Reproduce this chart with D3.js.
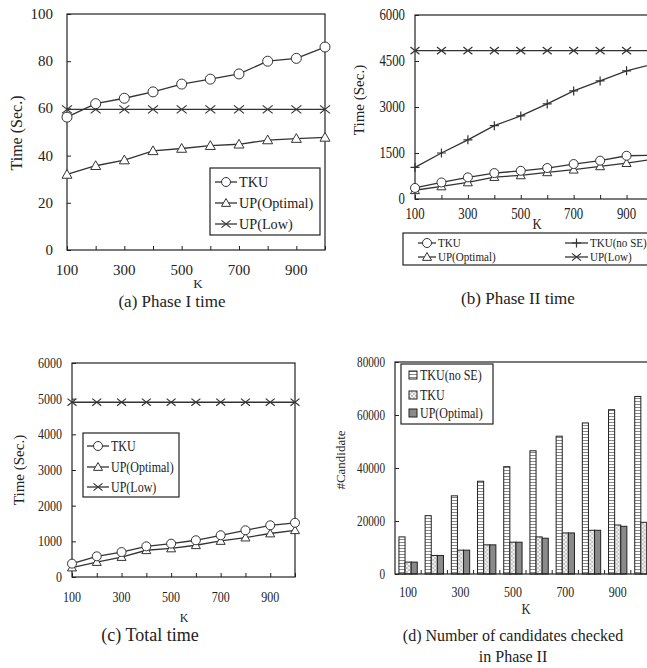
<!DOCTYPE html>
<html lang="en">
<head>
  <meta charset="UTF-8">
  <title>TKU experiments</title>
  <script src="https://d3js.org/d3.v7.min.js"></script>
  <style>
    body { margin: 0; background: #fff; }
    svg text { font-family: "Liberation Serif", "DejaVu Serif", serif; fill: #222; }
  </style>
</head>
<body>
  <div class="chart"></div>
  <script>
    const ks = [100, 200, 300, 400, 500, 600, 700, 800, 900, 1000];
    const kLabels = [100, 300, 500, 700, 900];

    // (a) Phase I time
    const p1Tku = [56.3, 62, 64.3, 67, 70.3, 72.4, 74.6, 80, 81.2, 86];
    const p1UpOpt = [32, 35.7, 38.1, 42, 43, 44.2, 44.8, 46.6, 47.2, 47.7];
    const p1UpLow = [59.6, 59.6, 59.6, 59.6, 59.6, 59.6, 59.6, 59.6, 59.6, 59.6];
    const p1Ticks = [0, 20, 40, 60, 80, 100];

    // (b) Phase II time
    const p2Tku = [360, 540, 705, 845, 920, 1010, 1140, 1250, 1410, 1430];
    const p2TkuNoSE = [1030, 1500, 1930, 2390, 2710, 3100, 3525, 3850, 4180, 4400];
    const p2UpOpt = [285, 410, 540, 715, 770, 870, 955, 1065, 1170, 1300];
    const p2UpLow = [4840, 4840, 4840, 4840, 4840, 4840, 4840, 4840, 4840, 4840];
    const p2Ticks = [0, 1500, 3000, 4500, 6000];

    // (c) Total time
    const totTku = [375, 580, 700, 860, 935, 1030, 1170, 1310, 1450, 1520];
    const totUpOpt = [265, 420, 560, 750, 800, 890, 1010, 1105, 1220, 1310];
    const totUpLow = [4900, 4900, 4900, 4900, 4900, 4900, 4900, 4900, 4900, 4900];
    const totTicks = [0, 1000, 2000, 3000, 4000, 5000, 6000];

    // (d) candidates checked in phase II
    const candSeries = ['TKU(no SE)', 'TKU', 'UP(Optimal)'];
    const candNoSE = [14000, 22000, 29500, 35000, 40500, 46500, 52000, 57000, 62000, 67000];
    const candTku = [4500, 7000, 9000, 11000, 12000, 14000, 15500, 16500, 18500, 19500];
    const candUpOpt = [4500, 7000, 9000, 11000, 12000, 13500, 15500, 16500, 18000, 19000];
    const candTicks = [0, 20000, 40000, 60000, 80000];

    const svg = d3.select('.chart').append('svg').attr('width', 647).attr('height', 668);

    const defs = svg.append('defs');
    const stripes = defs.append('pattern').attr('id', 'stripes')
      .attr('patternUnits', 'userSpaceOnUse').attr('width', 6).attr('height', 3);
    stripes.append('rect').attr('width', 6).attr('height', 3).attr('fill', '#fff');
    stripes.append('rect').attr('y', 2).attr('width', 6).attr('height', 1).attr('fill', '#888');
    const hatch = defs.append('pattern').attr('id', 'hatch')
      .attr('patternUnits', 'userSpaceOnUse').attr('width', 4).attr('height', 4);
    hatch.append('rect').attr('width', 4).attr('height', 4).attr('fill', '#f2f2f2');
    hatch.append('path').attr('d', 'M0,4L4,0M0,0L4,4').attr('stroke', '#b0b0b0').attr('stroke-width', 0.7);

    const lineColor = '#333';

    // text squeezed horizontally (the source figure is scaled unevenly)
    function txt(g, x, y, str, fs, anchor, sx) {
      return g.append('text')
        .attr('transform', `translate(${x},${y}) scale(${sx || 1},1)`)
        .attr('text-anchor', anchor || 'start').attr('font-size', fs).text(str);
    }

    function marker(g, type, x, y, s) {
      if (type === 'circle') {
        g.append('circle').attr('cx', x).attr('cy', y).attr('r', s)
          .attr('fill', '#fff').attr('stroke', lineColor).attr('stroke-width', 1);
      } else if (type === 'tri') {
        g.append('path').attr('d', `M${x},${y - s}L${x + s},${y + s * 0.75}L${x - s},${y + s * 0.75}Z`)
          .attr('fill', '#fff').attr('stroke', lineColor).attr('stroke-width', 1);
      } else if (type === 'x') {
        g.append('path').attr('d', `M${x - s},${y - s * 0.8}L${x + s},${y + s * 0.8}M${x - s},${y + s * 0.8}L${x + s},${y - s * 0.8}`)
          .attr('stroke', lineColor).attr('stroke-width', 1.2);
      } else if (type === 'plus') {
        g.append('path').attr('d', `M${x - s},${y}L${x + s},${y}M${x},${y - s}L${x},${y + s}`)
          .attr('stroke', lineColor).attr('stroke-width', 1.2);
      }
    }

    function framePlot(g, x, y, box, yTicks, o) {
      const { left, top, right, bottom } = box;
      g.append('rect').attr('x', left).attr('y', top)
        .attr('width', right - left).attr('height', bottom - top)
        .attr('fill', 'none').attr('stroke', '#222').attr('stroke-width', 1.2);

      const xa = g.append('g').attr('transform', `translate(0,${bottom})`)
        .call(d3.axisTop(x).tickValues(ks).tickSize(4).tickFormat(''));
      xa.select('.domain').remove();
      kLabels.forEach(k => txt(g, x(k), bottom + o.xDy, k, o.fs, 'middle', o.sx));

      const ya = g.append('g').attr('transform', `translate(${left},0)`)
        .call(d3.axisRight(y).tickValues(yTicks).tickSize(4).tickFormat(''));
      ya.select('.domain').remove();
      yTicks.forEach(v => txt(g, left - o.yPad, y(v) + o.fs * 0.33, v, o.fs, 'end', o.sx));
      g.selectAll('.tick line').attr('stroke', '#222');
    }

    function drawLines(g, x, y, series, size) {
      series.forEach(s => {
        const line = d3.line().x((d, i) => x(ks[i])).y(d => y(d));
        g.append('path').datum(s.values).attr('d', line)
          .attr('fill', 'none').attr('stroke', lineColor).attr('stroke-width', 1.3);
        s.values.forEach((v, i) => marker(g, s.mark, x(ks[i]), y(v), size));
      });
    }

    function yLabel(text, cx, cy, fs) {
      svg.append('text').attr('transform', `translate(${cx},${cy}) rotate(-90)`)
        .attr('text-anchor', 'middle').attr('font-size', fs).text(text);
    }

    function legendBox(g, x0, y0, w, h) {
      g.append('rect').attr('x', x0).attr('y', y0).attr('width', w).attr('height', h)
        .attr('fill', '#fff').attr('stroke', '#222').attr('stroke-width', 1.2);
    }

    function legendRow(g, x0, x1, y, mark, label, fs, sx) {
      g.append('line').attr('x1', x0).attr('x2', x1).attr('y1', y).attr('y2', y)
        .attr('stroke', lineColor).attr('stroke-width', 1.3);
      marker(g, mark, (x0 + x1) / 2, y, 4.5);
      txt(g, x1 + 2, y + fs * 0.33, label, fs, 'start', sx);
    }

    // ---- (a)
    {
      const g = svg.append('g');
      const box = { left: 67, top: 14, right: 325, bottom: 250 };
      const x = d3.scaleLinear().domain([100, 1000]).range([box.left, box.right]);
      const y = d3.scaleLinear().domain([0, 100]).range([box.bottom, box.top]);
      framePlot(g, x, y, box, p1Ticks, { fs: 15, sx: 1, xDy: 25, yPad: 14 });
      drawLines(g, x, y, [
        { values: p1UpLow, mark: 'x' },
        { values: p1UpOpt, mark: 'tri' },
        { values: p1Tku, mark: 'circle' }
      ], 5);
      legendBox(g, 210, 168, 110, 67);
      legendRow(g, 215, 237, 182, 'circle', 'TKU', 15, 0.95);
      legendRow(g, 215, 237, 203, 'tri', 'UP(Optimal)', 15, 0.95);
      legendRow(g, 215, 237, 224, 'x', 'UP(Low)', 15, 0.95);
      yLabel('Time (Sec.)', 22, 133, 16);
      txt(svg, 198, 288, 'K', 13, 'middle');
      txt(svg, 172, 307, '(a) Phase I time', 17, 'middle');
    }

    // ---- (b)
    {
      const g = svg.append('g');
      const box = { left: 415, top: 15, right: 653, bottom: 199 };
      const x = d3.scaleLinear().domain([100, 1000]).range([box.left, box.right]);
      const y = d3.scaleLinear().domain([0, 6000]).range([box.bottom, box.top]);
      framePlot(g, x, y, box, p2Ticks, { fs: 16, sx: 0.8, xDy: 20, yPad: 10 });
      drawLines(g, x, y, [
        { values: p2UpLow, mark: 'x' },
        { values: p2TkuNoSE, mark: 'plus' },
        { values: p2UpOpt, mark: 'tri' },
        { values: p2Tku, mark: 'circle' }
      ], 4.5);
      legendBox(g, 403, 233, 246, 32);
      legendRow(g, 418, 436, 243, 'circle', 'TKU', 13, 0.85);
      legendRow(g, 418, 436, 257, 'tri', 'UP(Optimal)', 13, 0.85);
      legendRow(g, 565, 588, 243, 'plus', 'TKU(no SE)', 13, 0.85);
      legendRow(g, 565, 588, 257, 'x', 'UP(Low)', 13, 0.85);
      yLabel('Time (Sec.)', 364, 100, 15);
      txt(svg, 537, 229, 'K', 15, 'middle', 0.85);
      txt(svg, 518, 304, '(b) Phase II time', 17, 'middle');
    }

    // ---- (c)
    {
      const g = svg.append('g');
      const box = { left: 72, top: 363, right: 295, bottom: 577 };
      const x = d3.scaleLinear().domain([100, 1000]).range([box.left, box.right]);
      const y = d3.scaleLinear().domain([0, 6000]).range([box.bottom, box.top]);
      framePlot(g, x, y, box, totTicks, { fs: 15, sx: 0.8, xDy: 25, yPad: 10 });
      drawLines(g, x, y, [
        { values: totUpLow, mark: 'x' },
        { values: totUpOpt, mark: 'tri' },
        { values: totTku, mark: 'circle' }
      ], 4.5);
      legendBox(g, 83, 433, 96, 64);
      legendRow(g, 87, 109, 446, 'circle', 'TKU', 15, 0.8);
      legendRow(g, 87, 109, 467, 'tri', 'UP(Optimal)', 15, 0.8);
      legendRow(g, 87, 109, 487, 'x', 'UP(Low)', 15, 0.8);
      yLabel('Time (Sec.)', 24, 470, 15);
      txt(svg, 184, 622, 'K', 12, 'middle');
      txt(svg, 150, 641, '(c) Total time', 18, 'middle');
    }

    // ---- (d)
    {
      const g = svg.append('g');
      const left = 395, top = 362, bottom = 574, right = 657;
      const x0 = d3.scaleBand().domain(ks).range([left, right]).paddingInner(0.3).paddingOuter(0.15);
      const x1 = d3.scaleBand().domain(candSeries).range([0, x0.bandwidth()]);
      const y = d3.scaleLinear().domain([0, 80000]).range([bottom, top]);
      const fills = { 'TKU(no SE)': 'url(#stripes)', 'TKU': 'url(#hatch)', 'UP(Optimal)': '#8a8a8a' };
      const rows = ks.map((k, i) => ({ k, vals: [candNoSE[i], candTku[i], candUpOpt[i]] }));

      const groups = g.selectAll('g.grp').data(rows).enter().append('g')
        .attr('transform', d => `translate(${x0(d.k)},0)`);
      groups.selectAll('rect').data(d => d.vals.map((v, j) => ({ s: candSeries[j], v })))
        .enter().append('rect')
        .attr('x', d => x1(d.s)).attr('y', d => y(d.v))
        .attr('width', x1.bandwidth()).attr('height', d => bottom - y(d.v))
        .attr('fill', d => fills[d.s]).attr('stroke', '#222').attr('stroke-width', 1);

      g.append('rect').attr('x', left).attr('y', top).attr('width', right - left).attr('height', bottom - top)
        .attr('fill', 'none').attr('stroke', '#222').attr('stroke-width', 1.2);

      // small ticks between the groups
      const step = x0.step();
      g.selectAll('line.sep').data(ks.slice(1)).enter().append('line')
        .attr('x1', d => x0(d) - step * 0.15).attr('x2', d => x0(d) - step * 0.15)
        .attr('y1', bottom).attr('y2', bottom - 4).attr('stroke', '#222');
      kLabels.forEach(k => txt(g, x0(k) + x0.bandwidth() / 2, bottom + 23, k, 14, 'middle', 0.85));

      const ya = g.append('g').attr('transform', `translate(${left},0)`)
        .call(d3.axisRight(y).tickValues(candTicks).tickSize(4).tickFormat(''));
      ya.select('.domain').remove();
      ya.selectAll('.tick line').attr('stroke', '#222');
      candTicks.forEach(v => txt(g, left - 10, y(v) + 4.5, v, 14, 'end', 0.8));

      legendBox(g, 401, 364, 92, 60);
      candSeries.forEach((s, i) => {
        const ly = [375, 395, 413][i];
        g.append('rect').attr('x', 409).attr('y', ly - 4).attr('width', 8).attr('height', 8)
          .attr('fill', fills[s]).attr('stroke', '#222');
        txt(g, 420, ly + 5, s, 15, 'start', 0.8);
      });
      yLabel('#Candidate', 345, 460, 13);
      txt(svg, 526, 614, 'K', 14, 'middle', 0.9);
      txt(svg, 513, 641, '(d) Number of candidates checked', 16, 'middle');
      txt(svg, 513, 662, 'in Phase II', 16, 'middle');
    }
  </script>
</body>
</html>
